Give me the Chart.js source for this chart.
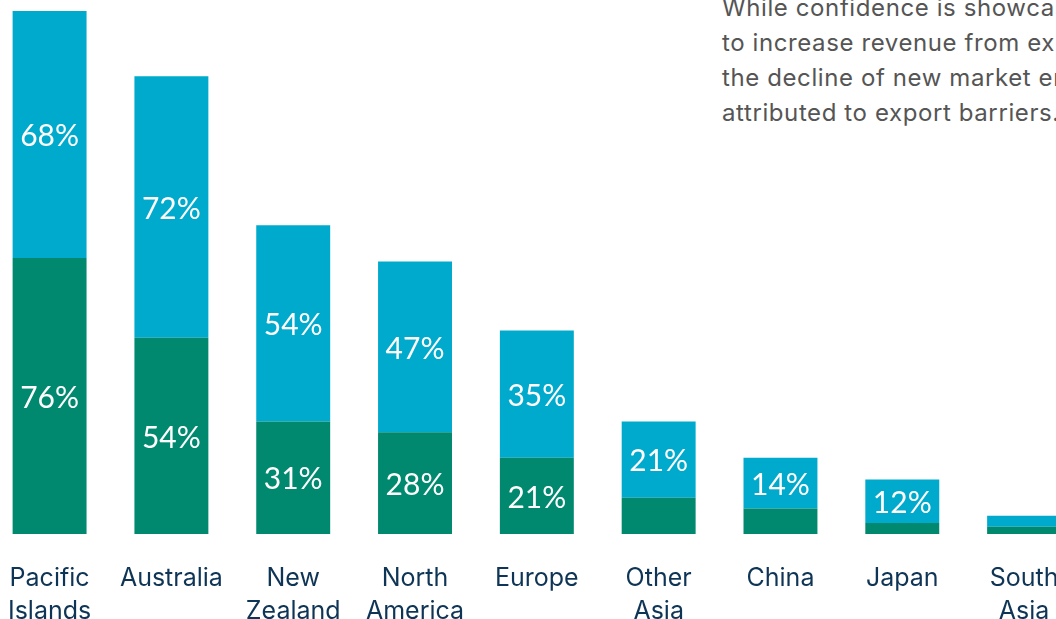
<!DOCTYPE html>
<html>
<head>
<meta charset="utf-8">
<script src="https://cdn.jsdelivr.net/npm/chart.js@4"></script>
<style>
  html, body { margin: 0; padding: 0; background: #fff; overflow: hidden; }
  body { width: 1056px; height: 619px; position: relative; }
  #wrap { position: absolute; left: -20px; top: 0; width: 1106px; height: 656px; }
  #nota {
    position: absolute; left: 722px; top: -10px; white-space: nowrap;
    font-family: Inter, "Open Sans", sans-serif; font-size: 24px; line-height: 35px;
    color: #555; letter-spacing: 0.6px;
  }
</style>
</head>
<body>
<div id="nota">
  While confidence is showcased<br>
  to increase revenue from exports,<br>
  the decline of new market entry<br>
  attributed to export barriers.
</div>
<div id="wrap"><canvas id="grafico"></canvas></div>
<script>
// mercados y porcentajes
const mercados = [['Pacific', 'Islands'], 'Australia', ['New', 'Zealand'], ['North', 'America'], 'Europe', ['Other', 'Asia'], 'China', 'Japan', ['South', 'Asia']];
const actuales = [76, 54, 31, 28, 21, 10, 7, 3, 2];
const nuevos = [68, 72, 54, 47, 35, 21, 14, 12, 3];

const verde = '#00896F';
const azul = '#00AACD';

// escribo el porcentaje dentro de cada tramo de barra
const etiquetas = {
  id: 'etiquetas',
  afterDatasetsDraw(chart) {
    const ctx = chart.ctx;
    ctx.save();
    ctx.fillStyle = '#fff';
    ctx.font = '30px Lato';
    ctx.textAlign = 'center';
    ctx.textBaseline = 'middle';
    chart.data.datasets.forEach((ds, d) => {
      chart.getDatasetMeta(d).data.forEach((bar, i) => {
        const v = ds.data[i];
        if (v < 12) return;
        const mid = (bar.y + bar.base) / 2;
        ctx.fillText(v + '%', bar.x, mid + 2);
      });
    });
    ctx.restore();
  }
};

const ctx = document.getElementById('grafico');
new Chart(ctx, {
  type: 'bar',
  data: {
    labels: mercados,
    datasets: [
      { label: 'actual', data: actuales, backgroundColor: verde },
      { label: 'nuevo', data: nuevos, backgroundColor: azul }
    ]
  },
  options: {
    responsive: true,
    maintainAspectRatio: false,
    animation: false,
    layout: { padding: 0 },
    datasets: { bar: { categoryPercentage: 1, barPercentage: 0.607, borderWidth: 0 } },
    plugins: { legend: { display: false }, tooltip: { enabled: false } },
    scales: {
      x: {
        stacked: true,
        grid: { display: false, drawTicks: false },
        border: { display: false },
        ticks: {
          color: '#0F3556',
          font: { family: 'Inter', size: 25, lineHeight: 1.32 },
          padding: 28,
          maxRotation: 0,
          autoSkip: false
        }
      },
      y: {
        stacked: true,
        display: false,
        min: 0,
        max: 147
      }
    }
  },
  plugins: [etiquetas]
});
</script>
</body>
</html>
